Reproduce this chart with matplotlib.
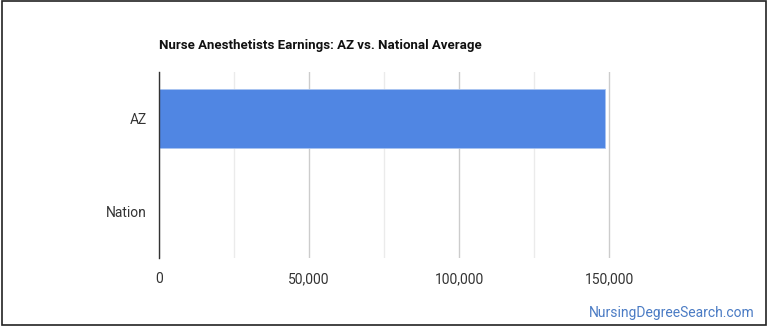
import matplotlib.pyplot as plt
from matplotlib.patches import Rectangle
from matplotlib.ticker import FuncFormatter

plt.rcParams["font.family"] = ["Roboto", "DejaVu Sans"]

categories = ["AZ", "Nation"]
earnings = [148500, 0]
major_ticks = [0, 50000, 100000, 150000]
minor_ticks = [25000, 75000, 125000]

W, H = 770, 335
fig = plt.figure(figsize=(W / 100, H / 100), dpi=100)
ax = fig.add_axes([159 / W, 1 - 258 / H, (759 - 159) / W, (258 - 72) / H])

ax.barh(categories, earnings, height=0.645, color="#5086e3", edgecolor="#a9c4f0", linewidth=0.6, zorder=3)
ax.set_ylim(1.5, -0.5)
ax.set_xlim(0, 200000)

ax.set_xticks(major_ticks)
ax.set_xticks(minor_ticks, minor=True)
ax.xaxis.set_major_formatter(FuncFormatter(lambda v, p: f"{int(v):,}"))
ax.grid(True, axis="x", which="major", color="#cccccc", linewidth=1, zorder=0)
ax.grid(True, axis="x", which="minor", color="#ebebeb", linewidth=1, zorder=0)
ax.tick_params(axis="both", which="both", length=0, labelsize=10, colors="#333333")
ax.tick_params(axis="x", pad=10)
ax.tick_params(axis="y", pad=9)
for s in ["top", "right", "bottom"]:
    ax.spines[s].set_visible(False)
ax.spines["left"].set_color("#333333")
ax.spines["left"].set_linewidth(1)
ax.spines["left"].set_zorder(4)

fig.text(159 / W, 1 - 45 / H, "Nurse Anesthetists Earnings: AZ vs. National Average",
         fontsize=9.5, fontweight="bold", color="#111111", va="center", ha="left")
fig.text(755 / W, 1 - 313 / H, "NursingDegreeSearch.com", fontsize=10,
         color="#4a7bc4", ha="right", va="center")

fig.patches.append(Rectangle((2 / W, 1 - 325 / H), 764 / W, 324 / H, transform=fig.transFigure,
                             fill=False, edgecolor="#222222", linewidth=1.2))

fig.savefig("out.png", dpi=100)
